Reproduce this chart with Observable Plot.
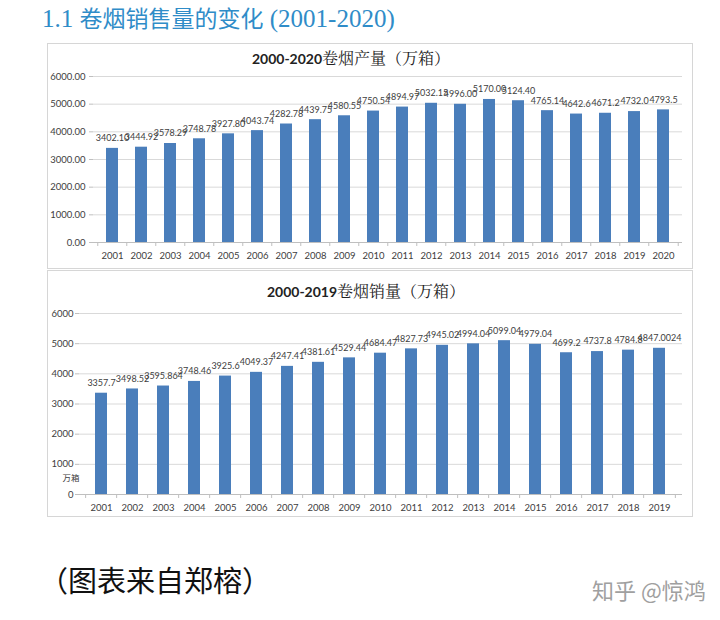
<!DOCTYPE html>
<html>
<head>
<meta charset="utf-8">
<script src="https://cdn.jsdelivr.net/npm/d3@7"></script>
<script src="https://cdn.jsdelivr.net/npm/@observablehq/plot@0.6"></script>
<style>
  html, body { margin: 0; padding: 0; background: #fff; }
  #page { position: relative; width: 720px; height: 620px; overflow: hidden; font-family: Lato, "Noto Sans CJK SC", sans-serif; }
  .abs { position: absolute; }
  #mainTitle { left: 42px; top: 0px; color: #2f8cc8; font-size: 23px; line-height: 34px; white-space: nowrap; }
  #mainTitle .lat { font-family: "Liberation Serif", serif; font-size: 25px; }
  #mainTitle .cjk { font-family: "Noto Sans CJK SC", sans-serif; }
  .box { border: 1px solid #d6d6d6; box-sizing: border-box; }
  .ctitle { white-space: nowrap; transform: translate(-50%, -50%); color: #222; }
  .ctitle .num { font-family: Lato, sans-serif; font-weight: bold; font-size: 14px; }
  .ctitle .cjk { font-family: "Noto Serif CJK SC", "Noto Sans CJK SC", serif; font-size: 16px; }
  #caption { left: 39px; top: 558px; font-family: "Noto Sans CJK SC", sans-serif; font-size: 29px; color: #111; white-space: nowrap; }
  #mark { left: 592px; top: 573px; font-family: "Noto Sans CJK SC", sans-serif; font-size: 22px; color: #a0a0a0; white-space: nowrap; }
</style>
</head>
<body>
<div id="page">
  <div id="mainTitle" class="abs"><span class="lat">1.1 </span><span class="cjk">卷烟销售量的变化</span><span class="lat"> (2001-2020)</span></div>
  <div class="abs box" style="left:47px; top:43px; width:646px; height:226px;"></div>
  <div class="abs box" style="left:47px; top:270px; width:646px; height:247px;"></div>
  <div class="abs ctitle" style="left:351px; top:57px;"><span class="num">2000-2020</span><span class="cjk">卷烟产量（万箱）</span></div>
  <div class="abs ctitle" style="left:366px; top:290px;"><span class="num">2000-2019</span><span class="cjk">卷烟销量（万箱）</span></div>
  <div id="top" class="abs" style="left:0; top:66px;"></div>
  <div id="bottom" class="abs" style="left:0; top:303px;"></div>
  <div id="caption" class="abs">（图表来自郑榕）</div>
  <div id="mark" class="abs">知乎 @惊鸿</div>
</div>
<script>
// ---- data ----
const prodYears = ["2001","2002","2003","2004","2005","2006","2007","2008","2009","2010","2011","2012","2013","2014","2015","2016","2017","2018","2019","2020"];
const prodLabels = ["3402.10","3444.92","3578.29","3748.78","3927.80","4043.74","4282.78","4439.75","4580.55","4750.54","4894.97","5032.15","4996.00","5170.00","5124.40","4765.14","4642.6","4671.2","4732.0","4793.5"];
const salesYears = ["2001","2002","2003","2004","2005","2006","2007","2008","2009","2010","2011","2012","2013","2014","2015","2016","2017","2018","2019"];
const salesLabels = ["3357.7","3498.52","3595.864","3748.46","3925.6","4049.37","4247.41","4381.61","4529.44","4684.47","4827.73","4945.02","4994.04","5099.04","4979.04","4699.2","4737.8","4784.8","4847.0024"];
const yTicks = [0, 1000, 2000, 3000, 4000, 5000, 6000];
const unitLabel = ["万箱"];

const BAR = "#4a7ebb";
const GRID = "#d9d9d9";
const AXIS = "#bfbfbf";
const TXT = "#404040";
const FONT = "Lato, sans-serif";

function makeChart({years, labels, tickFmt, marginLeft, height, tickPadY, unit}) {
  const data = years.map((y, i) => ({year: y, value: +labels[i], label: labels[i]}));
  const width = 720, marginRight = 38;
  const step = (width - marginLeft - marginRight) / years.length;
  const marks = [
    Plot.gridY(yTicks, {stroke: GRID, strokeOpacity: 1}),
    Plot.barY(data, {x: "year", y: "value", fill: BAR}),
    Plot.ruleY([0], {stroke: AXIS}),
    Plot.ruleX(years, {x: d => d, y1: 0, y2: 0, insetBottom: -4, dx: -step / 2, stroke: AXIS}),
    Plot.ruleX([years[years.length - 1]], {x: d => d, y1: 0, y2: 0, insetBottom: -4, dx: step / 2, stroke: AXIS}),
    Plot.axisY(yTicks, {tickSize: 4, tickPadding: tickPadY, stroke: AXIS, color: TXT, fontSize: 9.5, fontFamily: FONT, tickFormat: tickFmt, label: null}),
    Plot.axisX({tickSize: 0, tickPadding: 10, color: TXT, fontSize: 9.5, fontFamily: FONT, label: null}),
    Plot.text(data, {x: "year", y: "value", text: "label", dy: -10, fill: TXT, fontSize: 9, fontFamily: FONT})
  ];
  if (unit) {
    marks.push(Plot.text(unit, {frameAnchor: "bottom-left", dx: -17, dy: -14, fill: TXT, fontSize: 8.5, fontFamily: "Noto Sans CJK SC, sans-serif"}));
  }
  return Plot.plot({
    width, height, marginLeft, marginRight, marginTop: 10, marginBottom: 25,
    style: {background: "transparent", overflow: "visible"},
    x: {type: "band", domain: years, paddingInner: 0.6, paddingOuter: 0.3, align: 0.5},
    y: {domain: [0, 6000]},
    marks
  });
}

document.getElementById("top").append(makeChart({
  years: prodYears, labels: prodLabels, tickFmt: d => d.toFixed(2),
  marginLeft: 93, height: 201, tickPadY: 4
}));
document.getElementById("bottom").append(makeChart({
  years: salesYears, labels: salesLabels, tickFmt: d => String(d),
  marginLeft: 79, height: 216, tickPadY: 2, unit: unitLabel
}));
</script>
</body>
</html>
